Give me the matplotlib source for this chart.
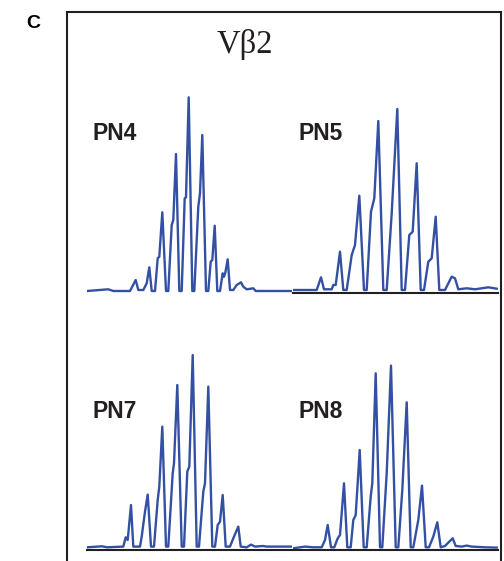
import matplotlib
matplotlib.use("Agg")
import matplotlib.pyplot as plt
from matplotlib.lines import Line2D

W, H = 504, 561
DPI = 100

# ---------------- data (fragment position, signal) ----------------
pn4_x = [0, 21.3, 26.3, 43, 48.7, 51.3, 56.3, 59.7, 62.3, 64.7, 68, 70.7, 72.3, 75.3, 79, 81.3,
         84.7, 86.3, 89, 92.3, 94.7, 97.7, 99, 101.7, 105.3, 107.3, 111.3, 113, 115.3, 119,
         121.3, 123.7, 125.3, 127.7, 130.3, 133, 135.7, 137, 138.3, 140.7, 143, 146.3, 149.7,
         154, 156.3, 159.7, 166.3, 168.7, 193, 205]
pn4_y = [0, 1.7, 0, 0, 11, 1, 1, 7.7, 23.7, 0, 0, 32.7, 34.3, 78.7, 0, 0,
         66, 71, 137, 0, 0, 92.7, 93.7, 193.7, 0, 0, 84.3, 97.7, 156, 0,
         0, 29.3, 31, 65.3, 0, 0, 17.7, 14.3, 18.3, 31.7, 1, 1, 6,
         8.7, 4.3, 1.7, 2.7, 0, 0, 0]

pn5_x = [0, 23.7, 28, 31, 38.7, 40.3, 42.7, 47, 50.3, 53.7, 58.7, 62, 66.3, 71, 73.7, 78,
         81.3, 85.3, 90.3, 93.7, 98.7, 104.3, 108.7, 112, 116.3, 119.7, 123.7, 127.7, 131,
         135.3, 138.7, 142.7, 146.3, 152, 158.7, 162, 165.3, 173.7, 182, 195.3, 203.7]
pn5_y = [0, 0, 12.7, 0.7, 0.7, 5, 5, 38.3, 0, 0, 35, 45, 94.3, 0, 0, 78.3,
         91.7, 169, 0, 0, 76.7, 181, 0, 0, 55, 58.3, 126.7, 0, 0,
         28.3, 31.7, 73.3, 0, 0, 13.3, 11.7, 0.7, 1.7, 0.7, 2.7, 1.3]

pn7_x = [0, 15, 20, 36.3, 38.7, 40.7, 44, 46.3, 53, 54.7, 58, 60.7, 64, 67, 70.7, 72.3,
         75.3, 79, 81.3, 85.7, 87, 90.3, 94.7, 97, 100.3, 102.3, 105.7, 109.7, 112, 116.3,
         118, 121.3, 125.3, 128, 130.7, 133, 135.7, 138.7, 143, 147, 151.3, 153.7, 159.7,
         164, 168, 176, 179.7, 189.7, 205]
pn7_y = [0, 1, 0, 0.7, 10, 7.3, 42.3, 0.7, 0.7, 10.7, 35.7, 52.7, 0.7, 0.7, 47.3, 60.7,
         120.7, 0.7, 0.7, 74, 84, 162.3, 0.7, 0.7, 75.7, 80.7, 192.3, 0.7, 0.7, 55.7,
         64, 160.7, 0.7, 0.7, 22.3, 25.7, 52.3, 0.7, 0.7, 10.7, 20.7, 0.7, 0,
         2.7, 0.7, 1.3, 0.7, 0.7, 0.7]

pn8_x = [0, 12, 20, 28.7, 32, 34.7, 38, 41.3, 44.7, 47, 51, 54.3, 57.7, 60.3, 62.7, 66.7,
         70.7, 73.7, 77.7, 79.3, 82.7, 87, 89.3, 93.7, 98, 102.7, 105.3, 109.3, 113.7,
         117.7, 120.3, 125.3, 129, 132.7, 136, 140.3, 144.3, 147.7, 152, 156.3, 159.7,
         162.7, 168.7, 173.7, 178.7, 192, 203.7]
pn8_y = [0, 1.7, 1, 1, 8.3, 23.3, 1, 1, 10, 13.3, 65, 1, 1, 28.3, 33.3, 98.3,
         1, 1, 51.7, 65, 175, 1, 1, 75, 182.7, 1, 1, 58.3, 146,
         1, 1, 28.3, 62.7, 1, 1, 11.7, 26, 1, 2.3, 6.7, 10,
         2.3, 1.7, 2.7, 1.7, 1, 0.7]

panel_names = ["PN4", "PN5", "PN7", "PN8"]
panel_x = [pn4_x, pn5_x, pn7_x, pn8_x]
panel_y = [pn4_y, pn5_y, pn7_y, pn8_y]
title = "V\u03b22"
panel_letter = "C"

# ---------------- layout (pixels) ----------------
BLUE = "#3350a3"
DARK = "#231f20"

fig = plt.figure(figsize=(W / DPI, H / DPI), dpi=DPI)


def fx(px):
    return px / W


def fy(py):
    return 1 - py / H


# outer frame
frame_kw = dict(color=DARK, lw=1.5, solid_capstyle="projecting")
fig.add_artist(Line2D([fx(67), fx(67)], [fy(12), fy(575)], **frame_kw))
fig.add_artist(Line2D([fx(67), fx(501)], [fy(12), fy(12)], **frame_kw))
fig.add_artist(Line2D([fx(501), fx(501)], [fy(12), fy(575)], **frame_kw))

# panel geometry: (left px, spine y px, baseline offset px, show spine)
geom = [(87, 293.5, 2.5, False), (293, 292.5, 2.5, True),
        (87, 550, 2.7, True), (293, 550, 1.7, True)]
label_pos = [(93, 140), (298.5, 140), (93, 418), (298.5, 418)]
top_h = 215
width = 205

for name, xs, ys, (lx, sy, off, spine), (tx, ty) in zip(panel_names, panel_x, panel_y,
                                                       geom, label_pos):
    ax = fig.add_axes([fx(lx), fy(sy), width / W, top_h / H])
    ax.plot(xs, ys, color=BLUE, lw=1.7, solid_joinstyle="round")
    ax.set_xlim(0, width)
    ax.set_ylim(-off, top_h - off)
    ax.set_xticks([])
    ax.set_yticks([])
    for s in ("top", "left", "right"):
        ax.spines[s].set_visible(False)
    ax.spines["bottom"].set_visible(spine)
    ax.spines["bottom"].set_color(DARK)
    ax.spines["bottom"].set_linewidth(1.5)
    ax.patch.set_alpha(0)
    fig.text(fx(tx), fy(ty), name, ha="left", va="baseline",
             fontsize=16.5, fontweight="bold", family="Liberation Sans", color=DARK)

fig.text(fx(245), fy(53), title, ha="center", va="baseline",
         fontsize=23.5, family="Liberation Serif", color=DARK)
fig.text(fx(26), fy(27.7), panel_letter, ha="left", va="baseline",
         fontsize=14, fontweight="bold", family="Liberation Sans", color="black")

fig.savefig("out.png", dpi=DPI)
